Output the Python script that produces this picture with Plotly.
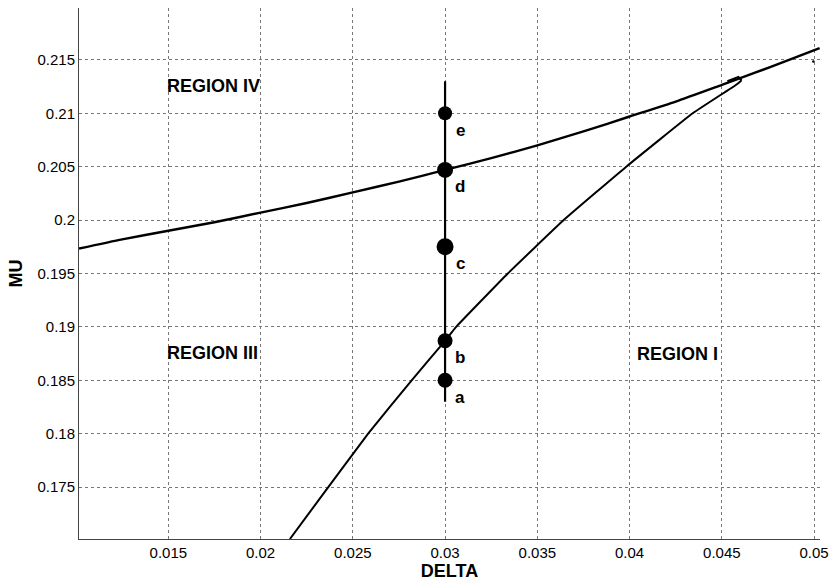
import plotly.graph_objects as go

# Upper boundary curve
upper_delta = [0.01016, 0.0125, 0.015, 0.0175, 0.02, 0.0225, 0.025, 0.0275, 0.03,
               0.0325, 0.035, 0.0375, 0.04, 0.0425, 0.045, 0.0468, 0.0485, 0.0503]
upper_mu = [0.19734, 0.1982, 0.1990, 0.1998, 0.2007, 0.2016, 0.2026, 0.2036, 0.2047,
            0.2058, 0.2070, 0.2083, 0.2097, 0.2111, 0.21266, 0.2138, 0.2149, 0.2161]

# Lower boundary curve
lower_delta = [0.02159, 0.02367, 0.02583, 0.02819, 0.0300, 0.0306, 0.0334, 0.03643,
               0.03982, 0.04342, 0.0458, 0.04607]
lower_mu = [0.17014, 0.175, 0.180, 0.185, 0.1887, 0.190, 0.195, 0.200,
            0.205, 0.210, 0.2127, 0.2131]

# Small hook joining the lower curve tip to the upper curve
hook_delta = [0.04607, 0.0459, 0.0453]
hook_mu = [0.2131, 0.2134, 0.2130]

# Vertical segment at DELTA = 0.03
seg_delta = [0.03, 0.03]
seg_mu = [0.183, 0.213]

# Labelled points
pt_labels = ["a", "b", "c", "d", "e"]
pt_delta = [0.03, 0.03, 0.03, 0.03, 0.03]
pt_mu = [0.185, 0.1887, 0.1975, 0.2047, 0.210]
pt_size = [15, 15, 17, 16, 14]

# Stray tiny dot
stray_delta = [0.04996]
stray_mu = [0.21484]

# Region labels
region_text = ["REGION IV", "REGION III", "REGION I"]
region_delta = [0.0148, 0.0148, 0.0403]
region_mu = [0.21257, 0.18757, 0.1875]

x_ticks = [0.015, 0.02, 0.025, 0.03, 0.035, 0.04, 0.045, 0.05]
x_ticktext = ["0.015", "0.02", "0.025", "0.03", "0.035", "0.04", "0.045", "0.05"]
y_ticks = [0.175, 0.18, 0.185, 0.19, 0.195, 0.2, 0.205, 0.21, 0.215]
y_ticktext = ["0.175", "0.18", "0.185", "0.19", "0.195", "0.2", "0.205", "0.21", "0.215"]

fig = go.Figure()
fig.add_trace(go.Scatter(x=upper_delta, y=upper_mu, mode="lines",
                         line=dict(color="black", width=2.4, shape="spline", smoothing=0.6),
                         showlegend=False, hoverinfo="skip"))
fig.add_trace(go.Scatter(x=lower_delta, y=lower_mu, mode="lines",
                         line=dict(color="black", width=2, shape="spline", smoothing=0.3),
                         showlegend=False, hoverinfo="skip"))
fig.add_trace(go.Scatter(x=hook_delta, y=hook_mu, mode="lines",
                         line=dict(color="black", width=2), showlegend=False, hoverinfo="skip"))
fig.add_trace(go.Scatter(x=seg_delta, y=seg_mu, mode="lines",
                         line=dict(color="black", width=2.2), showlegend=False, hoverinfo="skip"))
fig.add_trace(go.Scatter(x=pt_delta, y=pt_mu, mode="markers",
                         marker=dict(color="black", size=pt_size, opacity=1,
                                     line=dict(color="black", width=0)),
                         showlegend=False, hoverinfo="skip"))
fig.add_trace(go.Scatter(x=stray_delta, y=stray_mu, mode="markers",
                         marker=dict(color="black", size=2.5, opacity=1),
                         showlegend=False, hoverinfo="skip"))

for t, xv, yv in zip(pt_labels, pt_delta, pt_mu):
    fig.add_annotation(x=xv, y=yv, text=t, showarrow=False, xanchor="center", yanchor="middle",
                       xshift=15, yshift=-17,
                       font=dict(family="Liberation Sans", size=17, color="black", weight="bold"))

for t, xv, yv in zip(region_text, region_delta, region_mu):
    fig.add_annotation(x=xv, y=yv, text=t, showarrow=False, xanchor="left", yanchor="middle",
                       font=dict(family="Liberation Sans", size=18, color="black", weight="bold"))

fig.update_layout(
    width=837, height=583,
    margin=dict(l=79, r=12, t=8, b=42),
    paper_bgcolor="white", plot_bgcolor="white",
    font=dict(family="Liberation Sans", size=15, color="black"),
    xaxis=dict(range=[0.01016, 0.05032], tickvals=x_ticks, ticktext=x_ticktext,
               showgrid=True, gridcolor="#777777", griddash="dot", gridwidth=1,
               showline=True, linecolor="#444444", linewidth=1, zeroline=False,
               ticks="", tickfont=dict(size=15),
               title=dict(text="DELTA", standoff=1,
                          font=dict(family="Liberation Sans", size=18, weight="bold"))),
    yaxis=dict(range=[0.17014, 0.21986], tickvals=y_ticks, ticktext=y_ticktext,
               showgrid=True, gridcolor="#777777", griddash="dot", gridwidth=1,
               showline=True, linecolor="#444444", linewidth=1, zeroline=False,
               ticks="", tickfont=dict(size=15),
               title=dict(text="MU", standoff=10,
                          font=dict(family="Liberation Sans", size=18, weight="bold"))),
)

fig.write_html("out.html")
